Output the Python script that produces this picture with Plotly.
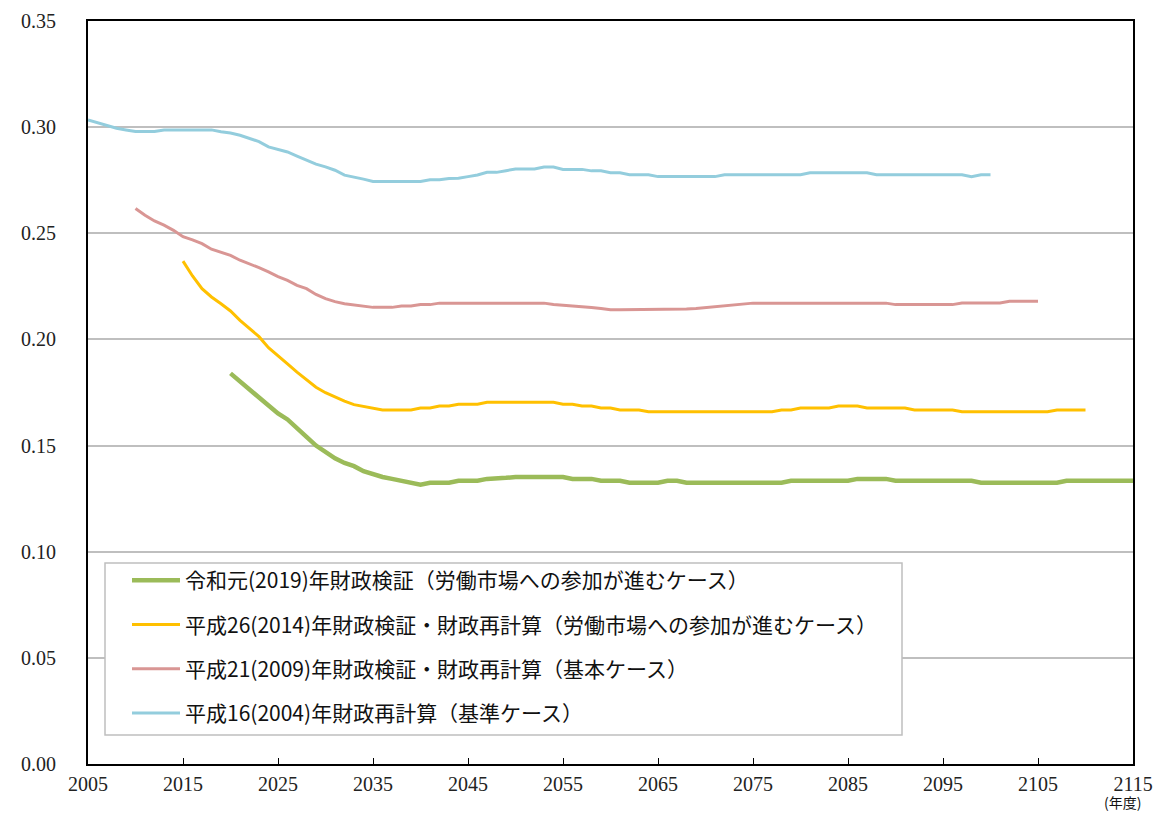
import plotly.graph_objects as go

# 令和元(2019)年財政検証（労働市場への参加が進むケース） 2020-2115
years_2019 = list(range(2020, 2116))
vals_2019 = [
    0.1840, 0.1802, 0.1764, 0.1725, 0.1687, 0.1651, 0.1623, 0.1579, 0.1541, 0.1500,  # 2020-2029
    0.1469, 0.1440, 0.1418, 0.1403, 0.1379, 0.1363, 0.1352, 0.1343, 0.1335, 0.1324,  # 2030-2039
    0.1316, 0.1325, 0.1325, 0.1325, 0.1334, 0.1334, 0.1334, 0.1343, 0.1343, 0.1348,  # 2040-2049
    0.1352, 0.1352, 0.1352, 0.1352, 0.1352, 0.1352, 0.1343, 0.1343, 0.1343, 0.1334,  # 2050-2059
    0.1334, 0.1334, 0.1325, 0.1325, 0.1325, 0.1325, 0.1334, 0.1334, 0.1325, 0.1325,  # 2060-2069
    0.1325, 0.1325, 0.1325, 0.1325, 0.1325, 0.1325, 0.1325, 0.1325, 0.1325, 0.1334,  # 2070-2079
    0.1334, 0.1334, 0.1334, 0.1334, 0.1334, 0.1334, 0.1343, 0.1343, 0.1343, 0.1343,  # 2080-2089
    0.1334, 0.1334, 0.1334, 0.1334, 0.1334, 0.1334, 0.1334, 0.1334, 0.1334, 0.1325,  # 2090-2099
    0.1325, 0.1325, 0.1325, 0.1325, 0.1325, 0.1325, 0.1325, 0.1325, 0.1334, 0.1334,  # 2100-2109
    0.1334, 0.1334, 0.1334, 0.1334, 0.1334, 0.1334,                                  # 2110-2115
]

# 平成26(2014)年財政検証・財政再計算（労働市場への参加が進むケース） 2015-2110
years_2014 = list(range(2015, 2111))
vals_2014 = [
    0.2369, 0.2299, 0.2239, 0.2200, 0.2168, 0.2134, 0.2090, 0.2050, 0.2013, 0.1961,  # 2015-2024
    0.1925, 0.1885, 0.1846, 0.1811, 0.1775, 0.1749, 0.1728, 0.1709, 0.1693, 0.1685,  # 2025-2034
    0.1676, 0.1668, 0.1668, 0.1668, 0.1668, 0.1677, 0.1677, 0.1686, 0.1686, 0.1695,  # 2035-2044
    0.1695, 0.1695, 0.1704, 0.1704, 0.1704, 0.1704, 0.1704, 0.1704, 0.1704, 0.1704,  # 2045-2054
    0.1695, 0.1695, 0.1686, 0.1686, 0.1677, 0.1677, 0.1668, 0.1668, 0.1668, 0.1659,  # 2055-2064
    0.1659, 0.1659, 0.1659, 0.1659, 0.1659, 0.1659, 0.1659, 0.1659, 0.1659, 0.1659,  # 2065-2074
    0.1659, 0.1659, 0.1659, 0.1668, 0.1668, 0.1677, 0.1677, 0.1677, 0.1677, 0.1686,  # 2075-2084
    0.1686, 0.1686, 0.1677, 0.1677, 0.1677, 0.1677, 0.1677, 0.1668, 0.1668, 0.1668,  # 2085-2094
    0.1668, 0.1668, 0.1659, 0.1659, 0.1659, 0.1659, 0.1659, 0.1659, 0.1659, 0.1659,  # 2095-2104
    0.1659, 0.1659, 0.1668, 0.1668, 0.1668, 0.1668,                                  # 2105-2110
]

# 平成21(2009)年財政検証・財政再計算（基本ケース） 2010-2105
years_2009 = list(range(2010, 2106))
vals_2009 = [
    0.2617, 0.2585, 0.2558, 0.2538, 0.2514, 0.2484, 0.2469, 0.2451, 0.2425, 0.2412,  # 2010-2019
    0.2396, 0.2373, 0.2357, 0.2338, 0.2318, 0.2296, 0.2278, 0.2255, 0.2239, 0.2212,  # 2020-2029
    0.2192, 0.2178, 0.2168, 0.2162, 0.2154, 0.2151, 0.2151, 0.2151, 0.2157, 0.2157,  # 2030-2039
    0.2164, 0.2164, 0.2171, 0.2171, 0.2171, 0.2171, 0.2171, 0.2171, 0.2171, 0.2171,  # 2040-2049
    0.2171, 0.2171, 0.2171, 0.2171, 0.2165, 0.2162, 0.2158, 0.2155, 0.2150, 0.2146,  # 2050-2059
    0.2140, 0.2140, 0.2140, 0.2140, 0.2140, 0.2140, 0.2140, 0.2140, 0.2143, 0.2146,  # 2060-2069
    0.2150, 0.2155, 0.2158, 0.2162, 0.2165, 0.2171, 0.2171, 0.2171, 0.2171, 0.2171,  # 2070-2079
    0.2171, 0.2171, 0.2171, 0.2171, 0.2171, 0.2171, 0.2171, 0.2171, 0.2171, 0.2171,  # 2080-2089
    0.2164, 0.2164, 0.2164, 0.2164, 0.2164, 0.2164, 0.2164, 0.2172, 0.2172, 0.2172,  # 2090-2099
    0.2172, 0.2172, 0.2180, 0.2180, 0.2180, 0.2180,                                  # 2100-2105
]

# 平成16(2004)年財政再計算（基準ケース） 2005-2100
years_2004 = list(range(2005, 2101))
vals_2004 = [
    0.3034, 0.3022, 0.3009, 0.2995, 0.2987, 0.2980, 0.2980, 0.2980, 0.2987, 0.2987,  # 2005-2014
    0.2987, 0.2987, 0.2987, 0.2987, 0.2978, 0.2972, 0.2962, 0.2948, 0.2932, 0.2907,  # 2015-2024
    0.2894, 0.2883, 0.2864, 0.2845, 0.2826, 0.2813, 0.2797, 0.2774, 0.2766, 0.2755,  # 2025-2034
    0.2744, 0.2744, 0.2744, 0.2744, 0.2744, 0.2744, 0.2752, 0.2752, 0.2758, 0.2759,  # 2035-2044
    0.2767, 0.2775, 0.2787, 0.2787, 0.2795, 0.2803, 0.2803, 0.2803, 0.2812, 0.2812,  # 2045-2054
    0.2801, 0.2801, 0.2801, 0.2794, 0.2794, 0.2785, 0.2785, 0.2776, 0.2776, 0.2776,  # 2055-2064
    0.2767, 0.2767, 0.2767, 0.2767, 0.2767, 0.2767, 0.2767, 0.2776, 0.2776, 0.2776,  # 2065-2074
    0.2776, 0.2776, 0.2776, 0.2776, 0.2776, 0.2776, 0.2785, 0.2785, 0.2785, 0.2785,  # 2075-2084
    0.2785, 0.2785, 0.2785, 0.2776, 0.2776, 0.2776, 0.2776, 0.2776, 0.2776, 0.2776,  # 2085-2094
    0.2776, 0.2776, 0.2776, 0.2767, 0.2776, 0.2776,                                  # 2095-2100
]

series = [
    ("令和元(2019)年財政検証（労働市場への参加が進むケース）", years_2019, vals_2019, "#9BBB59", 4.5),
    ("平成26(2014)年財政検証・財政再計算（労働市場への参加が進むケース）", years_2014, vals_2014, "#FFC000", 3),
    ("平成21(2009)年財政検証・財政再計算（基本ケース）", years_2009, vals_2009, "#D99694", 3),
    ("平成16(2004)年財政再計算（基準ケース）", years_2004, vals_2004, "#93CDDD", 3),
]

x_ticks = list(range(2005, 2116, 10))
y_ticks = [0.00, 0.05, 0.10, 0.15, 0.20, 0.25, 0.30, 0.35]

# plot area in pixels, used to place the legend frame
W, H = 1158, 814
L, R, T, B = 88, 25, 21, 50
pw, ph = W - L - R, H - T - B


def px_x(p):
    return (p - L) / pw


def px_y(p):
    return (H - B - p) / ph


fig = go.Figure()
for i, (name, xs, ys, color, width) in enumerate(series):
    fig.add_trace(go.Scatter(
        x=xs, y=ys, name=name, mode="lines",
        line=dict(color=color, width=width),
        legendgroup=f"g{i}",
    ))

tick_font = dict(family="Liberation Serif, DejaVu Serif, serif", size=20, color="#222222")

fig.update_layout(
    width=W, height=H,
    margin=dict(l=L, r=R, t=T, b=B),
    paper_bgcolor="white", plot_bgcolor="white",
    showlegend=True,
    legend=dict(
        x=px_x(127), y=px_y(560), xanchor="left", yanchor="top",
        bgcolor="rgba(0,0,0,0)", borderwidth=0,
        font=dict(family="Noto Sans CJK JP, sans-serif", size=21, color="#111111"),
        traceorder="grouped", tracegroupgap=14, itemwidth=48,
    ),
    xaxis=dict(
        range=[2005, 2115], tickmode="array", tickvals=x_ticks,
        ticktext=[str(v) for v in x_ticks],
        showgrid=False, zeroline=False, automargin=False,
        showline=True, linecolor="black", linewidth=2, mirror=True,
        ticks="inside", ticklen=6, tickcolor="black", tickwidth=1,
        tickfont=tick_font, ticklabelstandoff=1,
    ),
    yaxis=dict(
        range=[0, 0.35], tickmode="array", tickvals=y_ticks,
        ticktext=[f"{v:.2f}" for v in y_ticks],
        showgrid=True, gridcolor="#BFBFBF", gridwidth=1.5, zeroline=False,
        automargin=False,
        showline=True, linecolor="black", linewidth=2, mirror=True,
        ticks="", tickfont=tick_font, ticklabelstandoff=26,
    ),
    shapes=[dict(
        type="rect", xref="paper", yref="paper",
        x0=px_x(105), x1=px_x(902), y0=px_y(735), y1=px_y(563),
        line=dict(color="#BFBFBF", width=1.5), fillcolor="white", layer="above",
    )],
    annotations=[dict(
        text="(年度)", xref="paper", yref="paper", x=1.0, y=0, xanchor="center",
        yanchor="bottom", yshift=-49, xshift=-11, showarrow=False, borderpad=0,
        font=dict(family="Noto Sans CJK JP, sans-serif", size=14, color="#111111"),
    )],
)

fig.write_html("out.html")
